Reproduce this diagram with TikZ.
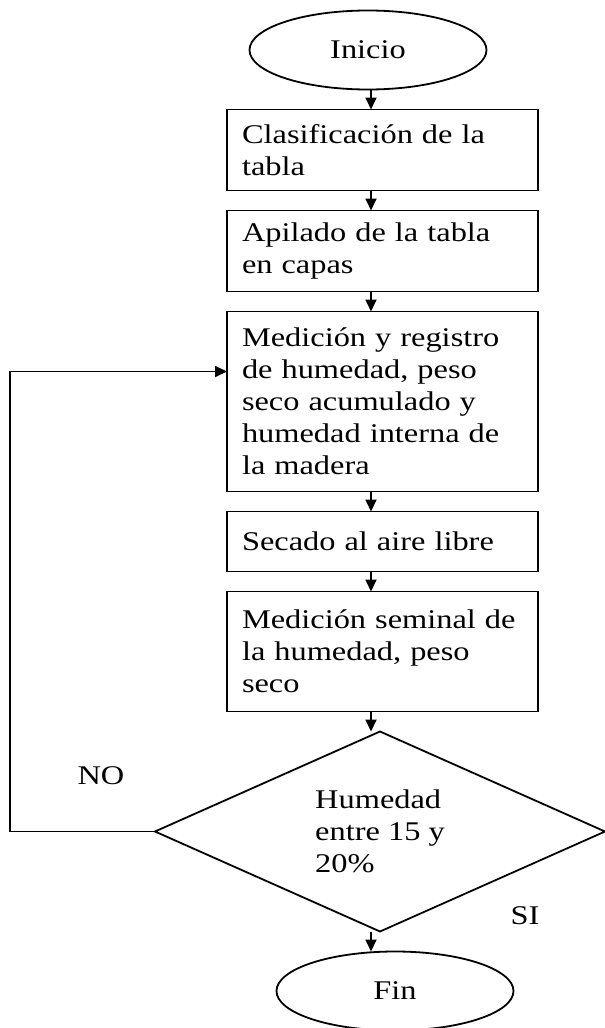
\documentclass[tikz,border=0pt]{standalone}
\usepackage{fontspec}
\setmainfont[FakeStretch=1.2]{Liberation Serif}
\usetikzlibrary{shapes.geometric, positioning, arrows.meta}

\begin{document}
\begin{tikzpicture}[x=1pt, y=-1pt, line width=1.8pt, node distance=20pt, outer sep=0pt,
  font=\fontsize{27}{32}\selectfont, >={Triangle[length=12pt, width=11pt]},
  box/.style={draw, rectangle, text width=281pt, align=left, inner xsep=15pt, inner ysep=0pt},
  term/.style={draw, ellipse, minimum width=237pt, minimum height=79pt, inner sep=0pt}]

\useasboundingbox (0,0) rectangle (605,1028);

\node[term] (inicio) at (368,50) {Inicio};
\node[box, minimum height=81pt, below=of inicio, xshift=14.5pt] (clas) {Clasificación de la\\tabla};
\node[box, minimum height=81pt, below=of clas] (apil) {Apilado de la tabla\\en capas};
\node[box, minimum height=180pt, below=of apil] (medic) {Medición y registro\\de humedad, peso\\seco acumulado y\\humedad interna de\\la madera};
\node[box, minimum height=60pt, below=of medic] (secado) {Secado al aire libre};
\node[box, minimum height=120pt, below=of secado] (semin) {Medición seminal de\\la humedad, peso\\seco};
\node[draw, diamond, shape aspect=2.25, minimum width=450pt, minimum height=200pt, inner sep=0pt,
  align=left, below=of semin, xshift=-2.5pt] (dec) {Humedad\\entre 15 y\\20\%};
\node[term, below=of dec, xshift=15pt] (fin) {Fin};

\node (no) at (101,776) {NO};
\node (si) at (525,916) {SI};

\coordinate (axis) at (371,0);
\coordinate (loop) at (10,0);

\foreach \a/\b in {inicio/clas, clas/apil, apil/medic, medic/secado, secado/semin, semin/dec, dec/fin}
  \draw[->] (\a.south -| axis) -- (\b.north -| axis);

\draw[->] (dec.west) -- (dec.west -| loop) |- ([yshift=30pt]medic.west);

\end{tikzpicture}
\end{document}
